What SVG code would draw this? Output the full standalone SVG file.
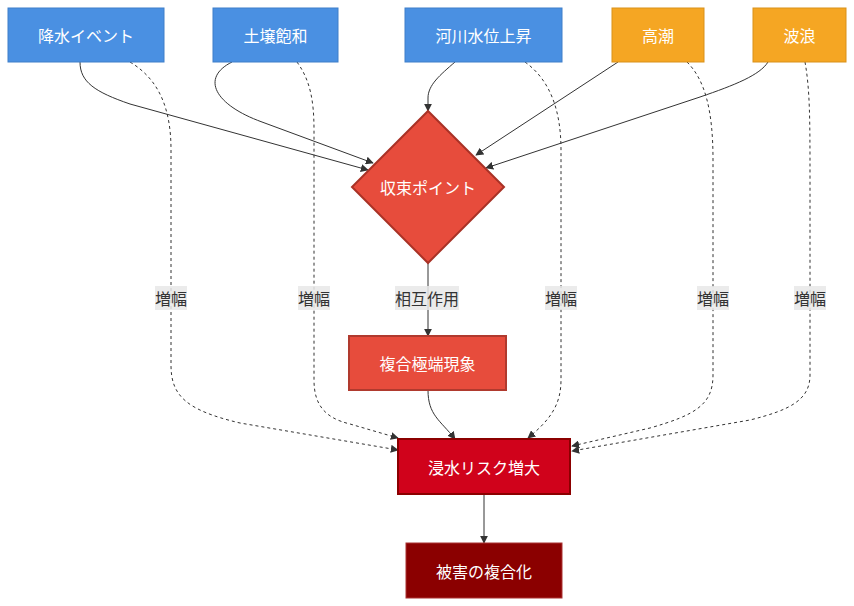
<svg xmlns="http://www.w3.org/2000/svg" width="854" height="606" viewBox="0 0 854 606">
<style>
.lbl{font-family:"Noto Sans CJK JP","Noto Sans",sans-serif;font-size:16px;fill:#fff;text-anchor:middle;dominant-baseline:central}
.elbl{font-family:"Noto Sans CJK JP","Noto Sans",sans-serif;font-size:16px;fill:#333;text-anchor:middle;dominant-baseline:central}
.lb{fill:#e8e8e8;fill-opacity:0.85}
.blue{fill:#4A90E2;stroke:#3f7fc9;stroke-width:1}
.orange{fill:#F5A623;stroke:#d9911a;stroke-width:1}
.e{fill:none;stroke:#333;stroke-width:1;marker-end:url(#ah)}
.d{fill:none;stroke:#333;stroke-width:1;stroke-dasharray:3 3;marker-end:url(#ah)}
</style>
<defs>
<marker id="ah" viewBox="0 0 10 10" refX="9" refY="5" markerWidth="8" markerHeight="8" markerUnits="userSpaceOnUse" orient="auto">
<path d="M0,0 L10,5 L0,10 z" fill="#333"/>
</marker>
</defs>
<rect width="854" height="606" fill="#fff"/>
<g id="edges">
<path class="e" d="M80,62 C80,82 95,92 130,104 L368,170"/>
<path class="e" d="M232,62 C200,78 215,105 262,122 L373,163"/>
<path class="e" d="M455,62 C440,75 428,85 428,98 L428,111"/>
<path class="e" d="M618,62 L476,155"/>
<path class="e" d="M768,62 C760,75 735,85 700,97 L486,168"/>
<path class="e" d="M428,263 L428,336"/>
<path class="e" d="M428,390 C428,415 440,420 455,439"/>
<path class="e" d="M484,494 L484,543"/>
<path class="d" d="M130,62 C160,80 171,110 171,150 L171,365 C171,395 185,410 240,423 L398,450"/>
<path class="d" d="M297,62 C310,80 314,100 314,130 L314,380 C314,405 325,418 350,424 L398,438"/>
<path class="d" d="M525,62 C550,80 561,110 561,150 L561,380 C561,405 550,420 528,438"/>
<path class="d" d="M687,62 C705,80 713,110 713,160 L713,375 C713,405 695,415 650,428 L572,446"/>
<path class="d" d="M805,62 C810,90 810,120 810,180 L810,375 C810,400 790,410 750,420 L572,451"/>
<rect class="lb" x="155" y="286" width="32" height="24"/><text class="elbl" x="171" y="298">増幅</text>
<rect class="lb" x="298" y="286" width="32" height="24"/><text class="elbl" x="314" y="298">増幅</text>
<rect class="lb" x="395" y="286" width="64" height="24"/><text class="elbl" x="427" y="298">相互作用</text>
<rect class="lb" x="545" y="286" width="32" height="24"/><text class="elbl" x="561" y="298">増幅</text>
<rect class="lb" x="697" y="286" width="32" height="24"/><text class="elbl" x="713" y="298">増幅</text>
<rect class="lb" x="794" y="286" width="32" height="24"/><text class="elbl" x="810" y="298">増幅</text>
</g>
<g id="rain"><rect class="blue" x="8" y="8" width="156" height="54"/><text class="lbl" x="86" y="35">降水イベント</text></g>
<g id="soil"><rect class="blue" x="213" y="8" width="125" height="54"/><text class="lbl" x="275.5" y="35">土壌飽和</text></g>
<g id="river"><rect class="blue" x="405" y="8" width="157" height="54"/><text class="lbl" x="483.5" y="35">河川水位上昇</text></g>
<g id="surge"><rect class="orange" x="612" y="8" width="92" height="54"/><text class="lbl" x="658" y="35">高潮</text></g>
<g id="wave"><rect class="orange" x="753" y="8" width="93" height="54"/><text class="lbl" x="799.5" y="35">波浪</text></g>
<g id="conv"><polygon points="428,111 504,187 428,263 352,187" fill="#E74C3C" stroke="#A93226" stroke-width="2"/><text class="lbl" x="428" y="187">収束ポイント</text></g>
<g id="compound"><rect x="349" y="336" width="157" height="54" fill="#E74C3C" stroke="#B03A2E" stroke-width="2"/><text class="lbl" x="427.5" y="363">複合極端現象</text></g>
<g id="flood"><rect x="398" y="439" width="172" height="55" fill="#D0021B" stroke="#8B0000" stroke-width="2"/><text class="lbl" x="484" y="466.5">浸水リスク増大</text></g>
<g id="damage"><rect x="406" y="543" width="156" height="55" fill="#8B0000" stroke="#a33" stroke-width="1"/><text class="lbl" x="484" y="570.5">被害の複合化</text></g>
</svg>
